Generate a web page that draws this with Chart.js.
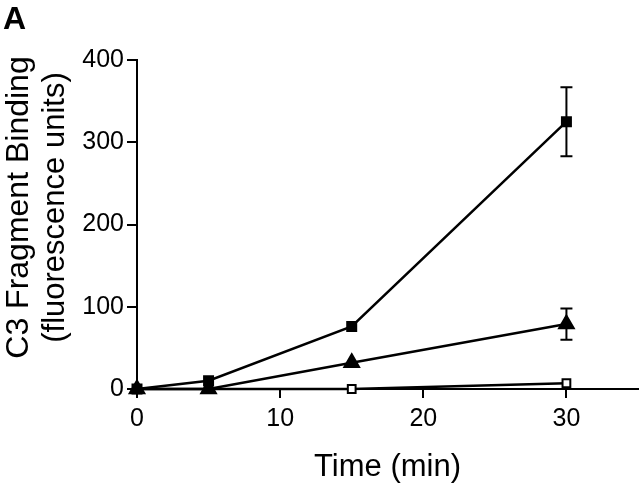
<!DOCTYPE html>
<html>
<head>
<meta charset="utf-8">
<script src="https://cdn.jsdelivr.net/npm/chart.js@4/dist/chart.umd.min.js"></script>
<style>
html,body{margin:0;padding:0;background:#fff;}
#wrap{position:relative;width:640px;height:483px;}
#lbl{position:absolute;left:3px;top:0px;font:bold 32px "Liberation Sans",Arial,sans-serif;color:#000;}
</style>
</head>
<body>
<div id="wrap"><canvas id="c" width="640" height="483"></canvas><div id="lbl">A</div></div>
<script>
const timePoints = [0, 5, 15, 30];
const filledSquare = [0, 10, 76, 325];
const filledSquareErr = [0, 0, 0, 42];
const filledTriangle = [0, 0, 32, 79];
const filledTriangleErr = [0, 0, 0, 19];
const openSquare = [0, 0, 0, 7];
const openSquareErr = [0, 0, 0, 0];
const xTicks = [0, 10, 20, 30];
const yTicks = [0, 100, 200, 300, 400];
const yTitleLines = ['C3 Fragment Binding', '(fluorescence units)'];

function pts(ys){ return timePoints.map((x,i)=>({x:x,y:ys[i]})); }

const font = "'Liberation Sans', Arial, sans-serif";

const errorBars = {
  id:'errorBars',
  afterDatasetsDraw(chart){
    const ctx = chart.ctx, xs = chart.scales.x, ys = chart.scales.y;
    chart.data.datasets.forEach(ds=>{
      if(!ds.err) return;
      ds.data.forEach((p,i)=>{
        const e = ds.err[i]; if(!e) return;
        const px = xs.getPixelForValue(p.x);
        const top = ys.getPixelForValue(p.y+e), bot = ys.getPixelForValue(p.y-e);
        ctx.save(); ctx.strokeStyle='#000'; ctx.lineWidth=2;
        ctx.beginPath();
        ctx.moveTo(px,top); ctx.lineTo(px,bot);
        ctx.moveTo(px-6,top); ctx.lineTo(px+6,top);
        ctx.moveTo(px-6,bot); ctx.lineTo(px+6,bot);
        ctx.stroke(); ctx.restore();
      });
    });
  }
};

const yTitle = {
  id:'yTitle',
  afterDraw(chart){
    const ctx = chart.ctx;
    const cy = (chart.chartArea.top + chart.chartArea.bottom)/2 - 17;
    ctx.save();
    ctx.fillStyle = '#000';
    ctx.textAlign = 'center';
    ctx.textBaseline = 'alphabetic';
    ctx.translate(0, cy);
    ctx.rotate(-Math.PI/2);
    ctx.font = "32px " + font;
    ctx.fillText(yTitleLines[0], 0, 28);
    ctx.font = "31px " + font;
    ctx.fillText(yTitleLines[1], 0, 64);
    ctx.restore();
  }
};

new Chart(document.getElementById('c'), {
  type:'line',
  data:{
    datasets:[
      {data:pts(openSquare), err:openSquareErr, clip:false, borderColor:'#000', borderWidth:2.5, pointStyle:'rect', pointRadius:5.5, pointBackgroundColor:'#fff', pointBorderColor:'#000', pointBorderWidth:2, order:3},
      {data:pts(filledTriangle), err:filledTriangleErr, clip:false, borderColor:'#000', borderWidth:2.5, pointStyle:'triangle', pointRadius:8, pointBackgroundColor:'#000', pointBorderColor:'#000', order:2},
      {data:pts(filledSquare), err:filledSquareErr, clip:false, borderColor:'#000', borderWidth:2.5, pointStyle:'rect', pointRadius:6, pointBackgroundColor:'#000', pointBorderColor:'#000', order:1}
    ]
  },
  options:{
    responsive:false, animation:false,
    layout:{autoPadding:false, padding:{top:60,right:2,left:0,bottom:0}},
    plugins:{legend:{display:false}, tooltip:{enabled:false}},
    scales:{
      x:{type:'linear', min:0, max:35,
        afterBuildTicks(s){ s.ticks = xTicks.map(v=>({value:v})); },
        afterFit(s){ s.height = 94; s.paddingRight = 0; s.paddingLeft = 0; },
        grid:{drawOnChartArea:false, drawTicks:true, tickLength:9, color:'#000', lineWidth:2},
        border:{color:'#000', width:2},
        ticks:{color:'#000', font:{family:font, size:25}, padding:6, maxRotation:0},
        title:{display:true, text:'Time (min)', color:'#000', font:{family:font, size:31, lineHeight:1.0}, padding:{top:4,bottom:0}}
      },
      y:{type:'linear', min:0, max:400,
        afterBuildTicks(s){ s.ticks = yTicks.map(v=>({value:v})); },
        afterFit(s){ s.width = 137; },
        grid:{drawOnChartArea:false, drawTicks:true, tickLength:10, color:'#000', lineWidth:2},
        border:{color:'#000', width:2},
        ticks:{color:'#000', font:{family:font, size:25}, padding:3},
        title:{display:false}
      }
    }
  },
  plugins:[errorBars, yTitle]
});
</script>
</body>
</html>
